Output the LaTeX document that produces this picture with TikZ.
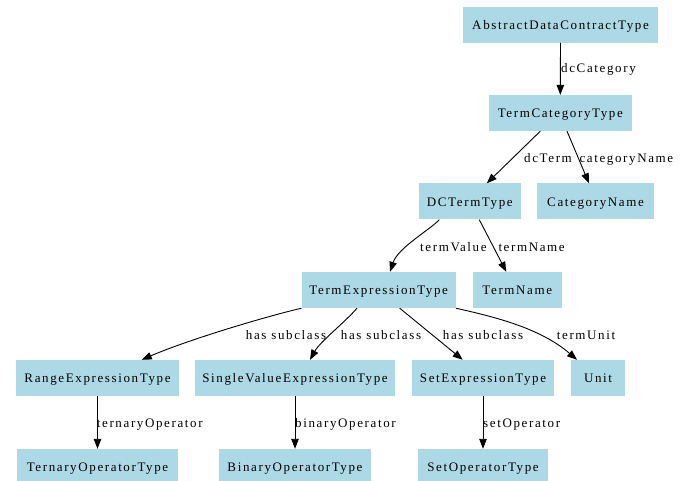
\documentclass[tikz,border=0pt]{standalone}
\usepackage{fontspec}
\setmainfont{Liberation Serif}[LetterSpace=12.5]
\usetikzlibrary{arrows.meta}
\definecolor{boxblue}{HTML}{ADD8E6}

\begin{document}
\begin{tikzpicture}[x=1pt, y=-1pt,
    box/.style={fill=boxblue, minimum height=36pt, inner sep=0pt, text height=9.2pt, text depth=0pt, font=\fontsize{13}{15}\selectfont},
    lbl/.style={anchor=base west, inner sep=0pt, font=\fontsize{13}{15}\selectfont},
    link/.style={line width=0.9pt, -{Triangle[length=10pt, width=7.5pt]}}]
    \useasboundingbox (0,0) rectangle (694,481);

    % Draw the boxes, row by row
    \node[box, minimum width=195.6pt] (adct) at (560.5, 24.7) {AbstractDataContractType};
    \node[box, minimum width=142.7pt] (tct) at (560.3, 113) {TermCategoryType};
    \node[box, minimum width=101.7pt] (dct) at (469.8, 201.5) {DCTermType};
    \node[box, minimum width=117pt] (catname) at (595.5, 201.5) {CategoryName};
    \node[box, minimum width=154pt] (tet) at (378.7, 290) {TermExpressionType};
    \node[box, minimum width=89.3pt] (tname) at (517.3, 290) {TermName};
    \node[box, minimum width=163pt] (range) at (97.5, 378) {RangeExpressionType};
    \node[box, minimum width=200pt] (single) at (295, 378) {SingleValueExpressionType};
    \node[box, minimum width=142.3pt] (setexp) at (483, 378) {SetExpressionType};
    \node[box, minimum width=54pt] (unit) at (598, 378) {Unit};
    \node[box, minimum width=161pt] (ternary) at (97.5, 467) {TernaryOperatorType};
    \node[box, minimum width=152pt] (binary) at (295, 467) {BinaryOperatorType};
    \node[box, minimum width=130.6pt] (setop) at (483, 467) {SetOperatorType};

    % Draw the links between the boxes
    \draw[link] (adct.south) -- (tct.north);
    \draw[link] ([xshift=-20]tct.south) -- ([xshift=17]dct.north);
    \draw[link] ([xshift=6.7]tct.south) -- ([xshift=-6.5]catname.north);
    \draw[link] ([xshift=-30.5]dct.south) .. controls +(-9.3,10) and +(8,-24) .. ([xshift=11.3]tet.north);
    \draw[link] ([xshift=9.5]dct.south) -- ([xshift=-11]tname.north);
    \draw[link] (tet.south west) .. controls (260,318) and (185,341) .. ([xshift=44.2]range.north);
    \draw[link] ([xshift=-21.7]tet.south) .. controls +(-12,14) and +(10,-18) .. ([xshift=15]single.north);
    \draw[link] ([xshift=21]tet.south) -- ([xshift=-20.3]setexp.north);
    \draw[link] (tet.south east) .. controls (495,317) and (540,328) .. ([xshift=-21]unit.north);
    \draw[link] (range) -- (ternary);
    \draw[link] (single) -- (binary);
    \draw[link] (setexp) -- (setop);

    % Draw the link labels
    \node[lbl] (l1) at (561, 73) {dcCategory};
    \node[lbl] (l2) at (524, 162.2) {dcTerm};
    \node[lbl] (l3) at (579.3, 162.2) {categoryName};
    \node[lbl] (l4) at (420, 251.2) {termValue};
    \node[lbl] (l5) at (498.3, 251.2) {termName};
    \node[lbl] (l6) at (245.7, 339) {has subclass};
    \node[lbl] (l7) at (340.7, 339) {has subclass};
    \node[lbl] (l8) at (442.7, 339) {has subclass};
    \node[lbl] (l9) at (556.7, 339) {termUnit};
    \node[lbl] (l10) at (96.7, 427.2) {ternaryOperator};
    \node[lbl] (l11) at (295, 427.2) {binaryOperator};
    \node[lbl] (l12) at (483, 427.2) {setOperator};

\end{tikzpicture}
\end{document}
